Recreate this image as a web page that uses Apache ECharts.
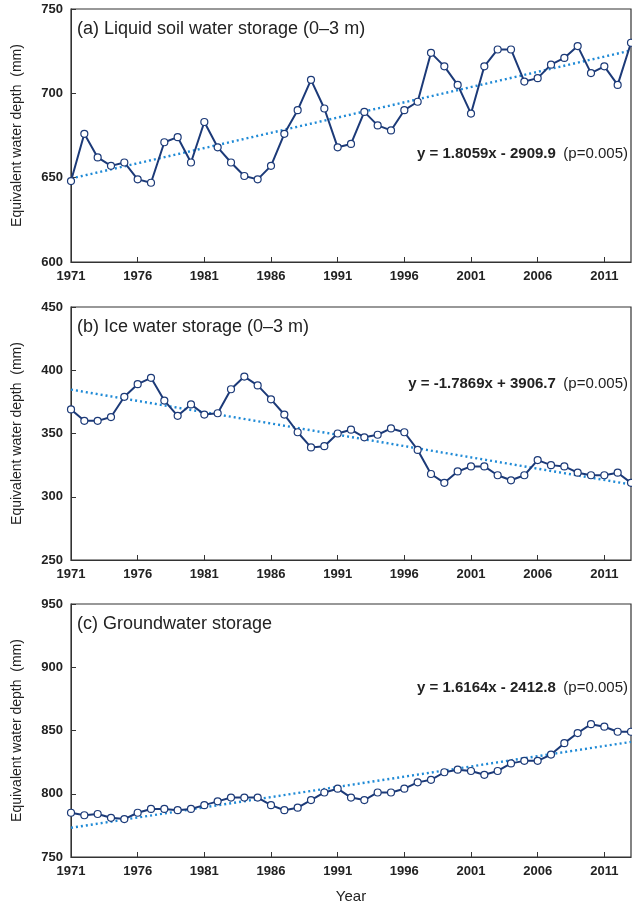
<!DOCTYPE html>
<html><head><meta charset="utf-8">
<script src="https://cdn.jsdelivr.net/npm/echarts@6/dist/echarts.min.js"></script>
<style>html,body{margin:0;padding:0;background:#fff}#c{width:632px;height:907px}</style>
</head><body><div id="c"></div>
<script>
const years = [];
for (let y = 1971; y <= 2013; y++) years.push(String(y));
const liquid = [648,676,662,657,659,649,647,671,674,659,683,668,659,651,649,657,676,690,708,691,668,670,689,681,678,690,695,724,716,705,688,716,726,726,707,709,717,721,728,712,716,705,730];
const ice = [369,360,360,363,379,389,394,376,364,373,365,366,385,395,388,377,365,351,339,340,350,353,347,349,354,351,337,318,311,320,324,324,317,313,317,329,325,324,319,317,317,319,311];
const ground = [785,783,784,781,780,785,788,788,787,788,791,794,797,797,797,791,787,789,795,801,804,797,795,801,801,804,809,811,817,819,818,815,818,824,826,826,831,840,848,855,853,849,849];
// trend line endpoints (1971, 2013) from the printed regression equations
const trendLiquid = [649.5, 725.4];
const trendIce = [384.7, 309.7];
const trendGround = [773.1, 841.0];
const yRanges = [[600,750],[250,450],[750,950]];
const titles = ['(a) Liquid soil water storage (0\u20133 m)','(b) Ice water storage (0\u20133 m)','(c) Groundwater storage'];
const eqs = ['y = 1.8059x - 2909.9','y = -1.7869x + 3906.7','y = 1.6164x - 2412.8'];
const eqGap = [' (p=0.005)',' (p=0.005)',' (p=0.005)'];

function endpoints(t){ const a = years.map(()=>null); a[0]=t[0]; a[a.length-1]=t[1]; return a; }
const tops = [9, 307, 604], h = 253;
const F='Liberation Sans, Arial';
const grids = tops.map(t=>({left:71,right:1,top:t,height:h,show:true,borderColor:'#333',borderWidth:1.2,backgroundColor:'transparent'}));
const xAxes = tops.map((t,i)=>({type:'category',gridIndex:i,data:years,boundaryGap:false,
  axisLine:{lineStyle:{color:'#333'}},axisTick:{inside:true,interval:4,length:5,lineStyle:{color:'#333'}},
  axisLabel:{interval:4,color:'#222',fontWeight:'bold',fontSize:13,fontFamily:F,margin:8},
  name: i===2?'Year':'', nameLocation:'middle', nameGap:32, nameTextStyle:{fontSize:15,color:'#222',fontFamily:F}}));
const yAxes = yRanges.map((r,i)=>({type:'value',gridIndex:i,min:r[0],max:r[1],interval:50,
  axisLine:{show:true,lineStyle:{color:'#333'}},axisTick:{show:true,inside:true,length:5,lineStyle:{color:'#333'}},
  splitLine:{show:false},axisLabel:{color:'#222',fontWeight:'bold',fontSize:13,fontFamily:F,margin:8},
  name:'Equivalent water depth  (mm)',nameLocation:'middle',nameGap:47,nameTextStyle:{fontSize:14,color:'#222',fontFamily:F}}));
const dataSets=[liquid,ice,ground], trends=[trendLiquid,trendIce,trendGround];
const series=[];
dataSets.forEach((d,i)=>{
  series.push({type:'line',xAxisIndex:i,yAxisIndex:i,data:endpoints(trends[i]),connectNulls:true,symbol:'none',
    lineStyle:{color:'#1f8ad6',width:2.4,type:[2,3]},z:2});
  series.push({type:'line',xAxisIndex:i,yAxisIndex:i,data:d,symbol:'circle',symbolSize:7,
    lineStyle:{color:'#1c3a78',width:2},itemStyle:{color:'#fff',borderColor:'#1c3a78',borderWidth:1.2},z:3});
});
const eqY=[156,386,690];
const graphic=[];
tops.forEach((t,i)=>{
  graphic.push({type:'text',left:77,top:t+11,style:{text:titles[i],fontSize:18,fill:'#222',fontFamily:F}});
  graphic.push({type:'text',right:4,top:eqY[i]-10,style:{rich:{b:{fontWeight:'bold',fontSize:15,fill:'#222',fontFamily:F},n:{fontSize:15,fill:'#222',fontFamily:F}},text:'{b|'+eqs[i]+'} {n|'+eqGap[i]+'}'}});
});
const chart=echarts.init(document.getElementById('c'));
chart.setOption({animation:false,grid:grids,xAxis:xAxes,yAxis:yAxes,series,graphic});
</script></body></html>
